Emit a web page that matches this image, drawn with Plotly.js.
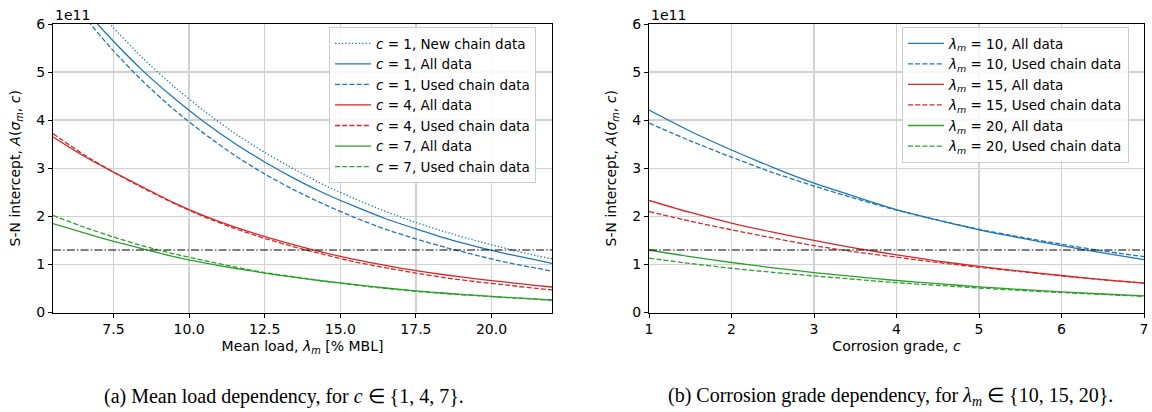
<!DOCTYPE html>
<html>
<head>
<meta charset="utf-8">
<script src="https://cdn.plot.ly/plotly-3.0.1.min.js"></script>
<style>
  html, body { margin: 0; padding: 0; background: #ffffff; }
  #chart { width: 1152px; height: 412px; }
</style>
</head>
<body>
<div id="chart"></div>
<script>
// ---------- Data (S-N intercept in units of 1e11) ----------
// (a) Mean load dependency
const LOAD = [5.5, 6.5, 7.5, 8.5, 9.5, 10.5, 11.5, 12.5, 13.5, 14.5, 15.5, 16.5, 17.5, 18.5, 19.5, 20.5, 21.5, 22];
const C1_NEW  = [7.45, 6.64, 5.92, 5.27, 4.70, 4.19, 3.73, 3.33, 2.97, 2.64, 2.36, 2.10, 1.87, 1.67, 1.49, 1.33, 1.18, 1.12];
const C1_ALL  = [7.13, 6.34, 5.64, 5.01, 4.46, 3.96, 3.52, 3.13, 2.78, 2.47, 2.20, 1.95, 1.74, 1.54, 1.37, 1.22, 1.09, 1.02];
const C1_USED = [7.01, 6.18, 5.44, 4.79, 4.22, 3.72, 3.27, 2.88, 2.54, 2.24, 1.97, 1.73, 1.53, 1.35, 1.19, 1.04, 0.92, 0.86];
const C4_ALL  = [3.65, 3.26, 2.92, 2.60, 2.28, 2.01, 1.78, 1.58, 1.40, 1.24, 1.10, 0.98, 0.87, 0.78, 0.70, 0.63, 0.56, 0.53];
const C4_USED = [3.72, 3.29, 2.92, 2.58, 2.27, 1.99, 1.75, 1.54, 1.36, 1.20, 1.05, 0.93, 0.82, 0.72, 0.64, 0.57, 0.50, 0.47];
const C7_ALL  = [1.85, 1.66, 1.48, 1.32, 1.16, 1.03, 0.92, 0.82, 0.73, 0.65, 0.58, 0.51, 0.45, 0.40, 0.355, 0.315, 0.28, 0.26];
const C7_USED = [2.02, 1.78, 1.57, 1.38, 1.22, 1.08, 0.95, 0.83, 0.74, 0.65, 0.57, 0.50, 0.44, 0.39, 0.35, 0.31, 0.275, 0.255];

// (b) Corrosion grade dependency
const GRADE = [1, 1.5, 2, 2.5, 3, 3.5, 4, 4.5, 5, 5.5, 6, 6.5, 7];
const L10_ALL  = [4.21, 3.77, 3.38, 3.02, 2.69, 2.41, 2.14, 1.92, 1.72, 1.55, 1.39, 1.24, 1.10];
const L10_USED = [3.94, 3.57, 3.23, 2.91, 2.63, 2.37, 2.13, 1.92, 1.73, 1.57, 1.42, 1.28, 1.16];
const L15_ALL  = [2.33, 2.08, 1.86, 1.67, 1.50, 1.34, 1.20, 1.07, 0.96, 0.86, 0.77, 0.685, 0.61];
const L15_USED = [2.10, 1.90, 1.72, 1.55, 1.39, 1.26, 1.15, 1.04, 0.94, 0.85, 0.76, 0.68, 0.61];
const L20_ALL  = [1.30, 1.16, 1.04, 0.93, 0.83, 0.745, 0.665, 0.60, 0.535, 0.48, 0.43, 0.385, 0.345];
const L20_USED = [1.13, 1.02, 0.92, 0.835, 0.76, 0.69, 0.62, 0.565, 0.51, 0.46, 0.415, 0.375, 0.335];

const THRESHOLD = 1.3;

// Tick labels
const LOAD_TICKS = [7.5, 10, 12.5, 15, 17.5, 20];
const LOAD_TICKTEXT = ['7.5', '10.0', '12.5', '15.0', '17.5', '20.0'];
const GRADE_TICKS = [1, 2, 3, 4, 5, 6, 7];
const GRADE_TICKTEXT = ['1', '2', '3', '4', '5', '6', '7'];
const Y_TICKS = [0, 1, 2, 3, 4, 5, 6];
const Y_TICKTEXT = ['0', '1', '2', '3', '4', '5', '6'];

// ---------- Styles ----------
const BLUE = '#1f77b4', RED = '#d62728', GREEN = '#2ca02c';
const LW = 1.3;
const DASH = '5px,2.2px';
const DOT = '1.3px,2.1px';
const DASHDOT = '8px,2.2px,1.4px,2.2px';
const FONT = 'DejaVu Sans, sans-serif';
const FS = 14;

function line(x, y, color, dash, name, xa, ya, legend) {
  return {
    type: 'scatter', mode: 'lines', x: x, y: y, name: name,
    xaxis: xa, yaxis: ya, legend: legend,
    line: { color: color, width: LW, dash: dash, shape: 'spline', smoothing: 0.6 },
    hoverinfo: 'skip'
  };
}

const traces = [
  line(LOAD, C1_NEW,  BLUE,  DOT,     '<i>c</i> = 1, New chain data',  'x', 'y', 'legend'),
  line(LOAD, C1_ALL,  BLUE,  'solid', '<i>c</i> = 1, All data',        'x', 'y', 'legend'),
  line(LOAD, C1_USED, BLUE,  DASH,    '<i>c</i> = 1, Used chain data', 'x', 'y', 'legend'),
  line(LOAD, C4_ALL,  RED,   'solid', '<i>c</i> = 4, All data',        'x', 'y', 'legend'),
  line(LOAD, C4_USED, RED,   DASH,    '<i>c</i> = 4, Used chain data', 'x', 'y', 'legend'),
  line(LOAD, C7_ALL,  GREEN, 'solid', '<i>c</i> = 7, All data',        'x', 'y', 'legend'),
  line(LOAD, C7_USED, GREEN, DASH,    '<i>c</i> = 7, Used chain data', 'x', 'y', 'legend'),
  {
    type: 'scatter', mode: 'lines', xaxis: 'x', yaxis: 'y', showlegend: false, hoverinfo: 'skip',
    x: [LOAD[0], LOAD[LOAD.length - 1]], y: [THRESHOLD, THRESHOLD],
    line: { color: '#000000', width: 1.2, dash: DASHDOT }
  },
  line(GRADE, L10_ALL,  BLUE,  'solid', '<i>λ<sub>m</sub></i> = 10, All data',        'x2', 'y2', 'legend2'),
  line(GRADE, L10_USED, BLUE,  DASH,    '<i>λ<sub>m</sub></i> = 10, Used chain data', 'x2', 'y2', 'legend2'),
  line(GRADE, L15_ALL,  RED,   'solid', '<i>λ<sub>m</sub></i> = 15, All data',        'x2', 'y2', 'legend2'),
  line(GRADE, L15_USED, RED,   DASH,    '<i>λ<sub>m</sub></i> = 15, Used chain data', 'x2', 'y2', 'legend2'),
  line(GRADE, L20_ALL,  GREEN, 'solid', '<i>λ<sub>m</sub></i> = 20, All data',        'x2', 'y2', 'legend2'),
  line(GRADE, L20_USED, GREEN, DASH,    '<i>λ<sub>m</sub></i> = 20, Used chain data', 'x2', 'y2', 'legend2'),
  {
    type: 'scatter', mode: 'lines', xaxis: 'x2', yaxis: 'y2', showlegend: false, hoverinfo: 'skip',
    x: [GRADE[0], GRADE[GRADE.length - 1]], y: [THRESHOLD, THRESHOLD],
    line: { color: '#000000', width: 1.2, dash: DASHDOT }
  }
];

const W = 1152, H = 412;
const yDom = [(H - 312.5) / H, (H - 24) / H];

function xAxis(domain, range, tickvals, ticktext, title) {
  return {
    domain: domain, range: range, tickvals: tickvals, ticktext: ticktext,
    showline: true, mirror: true, linecolor: '#000000', linewidth: 1,
    ticks: 'outside', ticklen: 4, tickwidth: 1, tickcolor: '#000000',
    showgrid: true, gridcolor: '#d2d2d2', gridwidth: 1.4, zeroline: false,
    tickfont: { family: FONT, size: FS, color: '#000000' },
    title: { text: title, font: { family: FONT, size: FS, color: '#000000' }, standoff: 4 },
    fixedrange: true, automargin: false
  };
}
function yAxis(anchor) {
  return {
    domain: yDom, range: [0, 6], tickvals: Y_TICKS, ticktext: Y_TICKTEXT, anchor: anchor,
    showline: true, mirror: true, linecolor: '#000000', linewidth: 1,
    ticks: 'outside', ticklen: 4, tickwidth: 1, tickcolor: '#000000',
    showgrid: true, gridcolor: '#d2d2d2', gridwidth: 1.4, zeroline: false,
    tickfont: { family: FONT, size: FS, color: '#000000' },
    title: { text: 'S-N intercept, <i>A</i>(<i>σ<sub>m</sub></i>, <i>c</i>)', font: { family: FONT, size: FS, color: '#000000' }, standoff: 12 },
    fixedrange: true, automargin: false
  };
}

const legendStyle = {
  bgcolor: 'rgba(255,255,255,0.85)', bordercolor: '#cccccc', borderwidth: 1,
  font: { family: FONT, size: 13.5, color: '#000000' },
  xanchor: 'left', yanchor: 'top', xref: 'paper', yref: 'paper',
  tracegroupgap: 0, itemwidth: 36
};

const layout = {
  width: W, height: H,
  margin: { l: 0, r: 0, t: 0, b: 0 },
  paper_bgcolor: '#ffffff', plot_bgcolor: '#ffffff',
  showlegend: true,
  xaxis: xAxis([53 / W, 552 / W], [5.5, 22], LOAD_TICKS, LOAD_TICKTEXT, 'Mean load, <i>λ<sub>m</sub></i> [% MBL]'),
  yaxis: yAxis('x'),
  xaxis2: Object.assign(xAxis([649 / W, 1144 / W], [1, 7], GRADE_TICKS, GRADE_TICKTEXT, 'Corrosion grade, <i>c</i>'), { anchor: 'y2' }),
  yaxis2: yAxis('x2'),
  legend: Object.assign({}, legendStyle, { x: 329 / W, y: (H - 27) / H }),
  legend2: Object.assign({}, legendStyle, { x: 902 / W, y: (H - 27) / H }),
  annotations: [
    { text: '1e11', xref: 'paper', yref: 'paper', x: 53 / W, y: (H - 15) / H, xanchor: 'left', yanchor: 'middle', showarrow: false, font: { family: FONT, size: FS, color: '#000000' } },
    { text: '1e11', xref: 'paper', yref: 'paper', x: 649 / W, y: (H - 15) / H, xanchor: 'left', yanchor: 'middle', showarrow: false, font: { family: FONT, size: FS, color: '#000000' } },
    { text: '(a) Mean load dependency, for <i>c</i> ∈ {1, 4, 7}.', xref: 'paper', yref: 'paper', x: 284 / W, y: (H - 396) / H, xanchor: 'center', yanchor: 'middle', showarrow: false, font: { family: 'Liberation Serif, serif', size: 20, color: '#000000' } },
    { text: '(b) Corrosion grade dependency, for <i>λ<sub>m</sub></i> ∈ {10, 15, 20}.', xref: 'paper', yref: 'paper', x: 890 / W, y: (H - 396) / H, xanchor: 'center', yanchor: 'middle', showarrow: false, font: { family: 'Liberation Serif, serif', size: 20, color: '#000000' } }
  ]
};

Plotly.newPlot('chart', traces, layout, { staticPlot: true, displayModeBar: false });
</script>
</body>
</html>
